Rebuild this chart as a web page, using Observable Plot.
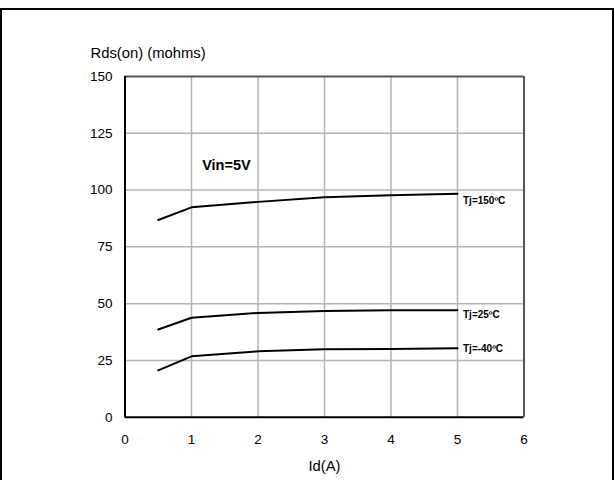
<!DOCTYPE html>
<html>
<head>
<meta charset="utf-8">
<script src="https://cdn.jsdelivr.net/npm/d3@7"></script>
<script src="https://cdn.jsdelivr.net/npm/@observablehq/plot@0.6"></script>
<style>
  html, body { margin: 0; padding: 0; background: #fff; }
  #wrap { position: relative; width: 615px; height: 480px; overflow: hidden; }
  #border { position: absolute; left: 0; top: 8px; width: 614px; height: 480px; box-sizing: border-box; border: 2px solid #000; pointer-events: none; }
</style>
</head>
<body>
<div id="wrap"><div id="border"></div></div>
<script>
// Data
const idA = [0.5, 1, 2, 3, 4, 5];
const rds150 = [86.8, 92.4, 94.8, 96.8, 97.7, 98.4];
const rds25 = [38.6, 43.8, 45.9, 46.8, 47.1, 47.1];
const rdsM40 = [20.6, 26.8, 29.0, 29.9, 30.0, 30.4];
const seriesNames = ["Tj=150ºC", "Tj=25ºC", "Tj=-40ºC"];
const labelY = [95.3, 44.9, 30.3];
const xTicks = [0, 1, 2, 3, 4, 5, 6];
const yTicks = [0, 25, 50, 75, 100, 125, 150];
const note = {text: "Vin=5V", x: 1.16, y: 111};

const seriesValues = [rds150, rds25, rdsM40];
const rows = seriesValues.flatMap((vals, i) => vals.map((v, j) => ({series: seriesNames[i], x: idA[j], y: v})));
const labels = seriesNames.map((s, i) => ({text: s, x: idA[idA.length - 1], y: labelY[i]}));

const chart = Plot.plot({
  width: 615,
  height: 480,
  marginTop: 76,
  marginLeft: 124.5,
  marginRight: 91.5,
  marginBottom: 63.3,
  style: {fontFamily: "'Liberation Sans', Arial, sans-serif", fontSize: "13.5px", background: "transparent", color: "#000"},
  x: {domain: [0, 6]},
  y: {domain: [0, 150]},
  marks: [
    Plot.ruleX(xTicks.slice(1, -1), {stroke: "#b4b4b4", strokeWidth: 1.5}),
    Plot.ruleY(yTicks.slice(1, -1), {stroke: "#b4b4b4", strokeWidth: 1.5}),
    Plot.ruleX([6], {stroke: "#555", strokeWidth: 2}),
    Plot.ruleY([150], {stroke: "#555", strokeWidth: 2}),
    Plot.ruleX([0], {stroke: "#000", strokeWidth: 2}),
    Plot.ruleY([0], {stroke: "#000", strokeWidth: 2}),
    Plot.axisY({ticks: yTicks, tickSize: 0, tickPadding: 12.5, fontSize: 13.5, label: null, tickFormat: d => String(d)}),
    Plot.axisX({ticks: xTicks, tickSize: 0, tickPadding: 17.5, fontSize: 13.5, label: null, tickFormat: d => String(d)}),
    Plot.line(rows, {x: "x", y: "y", z: "series", stroke: "#000", strokeWidth: 2}),
    Plot.text(labels, {x: "x", y: "y", text: "text", textAnchor: "start", dx: 5.5, fontSize: 10, fontWeight: "bold"}),
    Plot.text([note], {x: "x", y: "y", text: "text", textAnchor: "start", fontSize: 14.5, fontWeight: "bold"}),
    Plot.text(["Rds(on) (mohms)"], {frameAnchor: "top-left", textAnchor: "start", lineAnchor: "middle", dx: -34.5, dy: -23, fontSize: 14.8}),
    Plot.text(["Id(A)"], {frameAnchor: "bottom", lineAnchor: "middle", dy: 49.5, fontSize: 14.8})
  ]
});
document.getElementById("wrap").prepend(chart);
</script>
</body>
</html>
